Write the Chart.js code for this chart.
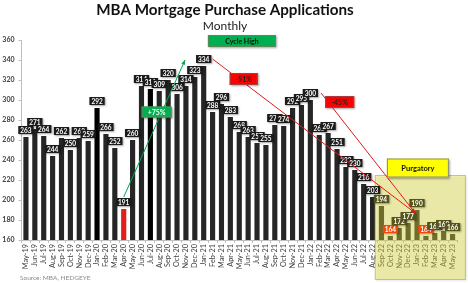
<!DOCTYPE html>
<html>
<head>
<meta charset="utf-8">
<script src="https://cdn.jsdelivr.net/npm/chart.js@4"></script>
<style>
  html, body { margin: 0; padding: 0; background: #fff; }
  canvas { display: block; }
</style>
</head>
<body>
<canvas id="chart" width="468" height="283"></canvas>
<script>
// data
const months = ['May-19','Jun-19','Jul-19','Aug-19','Sep-19','Oct-19','Nov-19','Dec-19',
  'Jan-20','Feb-20','Mar-20','Apr-20','May-20','Jun-20','Jul-20','Aug-20','Sep-20','Oct-20','Nov-20','Dec-20',
  'Jan-21','Feb-21','Mar-21','Apr-21','May-21','Jun-21','Jul-21','Aug-21','Sep-21','Oct-21','Nov-21','Dec-21',
  'Jan-22','Feb-22','Mar-22','Apr-22','May-22','Jun-22','Jul-22','Aug-22','Sep-22','Oct-22','Nov-22','Dec-22',
  'Jan-23','Feb-23','Mar-23','Apr-23','May-23'];
const purchaseIndex = [263, 271, 264, 244, 262, 250, 262, 259,
  292, 266, 252, 191, 260, 314, 311, 309, 320, 306, 314, 323,
  334, 288, 296, 283, 268, 263, 257, 255, 275, 274, 292, 295,
  300, 265, 267, 251, 233, 230, 216, 203, 194, 164, 172, 177,
  190, 164, 167, 169, 166];
const yMin = 160, yMax = 360, yStep = 20;
const blackMonths = ['Jan-20', 'Jul-20'];
const troughMonth = 'Apr-20';
const purgatoryFrom = 'Sep-22';
const purgatoryLows = ['Oct-22', 'Feb-23'];

const titleText = 'MBA Mortgage Purchase Applications';
const subtitleText = 'Monthly';
const sourceText = 'Source: MBA, HEDGEYE';

const idx = m => months.indexOf(m);
const purgStart = idx(purgatoryFrom);

const barColors = months.map(m => {
  if (m === troughMonth) return '#e0201c';
  if (blackMonths.includes(m)) return '#000000';
  return '#262626';
});

// helpers for drawing
function arrow(ctx, x1, y1, x2, y2, color) {
  ctx.save();
  ctx.strokeStyle = color;
  ctx.fillStyle = color;
  ctx.lineWidth = 1;
  ctx.beginPath();
  ctx.moveTo(x1, y1);
  ctx.lineTo(x2, y2);
  ctx.stroke();
  const a = Math.atan2(y2 - y1, x2 - x1);
  const s = 5;
  ctx.beginPath();
  ctx.moveTo(x2, y2);
  ctx.lineTo(x2 - s * Math.cos(a - 0.4), y2 - s * Math.sin(a - 0.4));
  ctx.lineTo(x2 - s * Math.cos(a + 0.4), y2 - s * Math.sin(a + 0.4));
  ctx.closePath();
  ctx.fill();
  ctx.restore();
}

function labelBox(ctx, cx, cy, w, h, text, bg, fg, font, border) {
  ctx.save();
  ctx.shadowColor = 'rgba(0,0,0,0.35)';
  ctx.shadowBlur = 2;
  ctx.shadowOffsetX = 1;
  ctx.shadowOffsetY = 1;
  ctx.fillStyle = bg;
  ctx.fillRect(cx - w / 2, cy - h / 2, w, h);
  ctx.restore();
  if (border) {
    ctx.strokeStyle = border;
    ctx.lineWidth = 1;
    ctx.strokeRect(cx - w / 2 + 0.5, cy - h / 2 + 0.5, w - 1, h - 1);
  }
  ctx.fillStyle = fg;
  ctx.font = font;
  ctx.textAlign = 'center';
  ctx.textBaseline = 'middle';
  ctx.fillText(text, cx, cy + 0.5);
}

const decorPlugin = {
  id: 'decor',
  beforeDraw(chart) {
    const ctx = chart.ctx;
    ctx.save();
    ctx.fillStyle = '#fff';
    ctx.fillRect(0, 0, chart.width, chart.height);
    ctx.textAlign = 'center';
    ctx.textBaseline = 'alphabetic';
    ctx.fillStyle = '#111';
    ctx.font = 'bold 15.2px Lato';
    ctx.fillText(titleText, 225, 15);
    ctx.font = '12px Lato';
    ctx.fillStyle = '#222';
    ctx.fillText(subtitleText, 225, 30);
    ctx.restore();
  },
  afterDatasetsDraw(chart) {
    const ctx = chart.ctx;
    const { x, y } = chart.scales;
    const bars = chart.getDatasetMeta(0).data;
    ctx.save();

    // purgatory zone
    const px1 = x.getPixelForValue(purgStart - 0.75);
    const px2 = x.getPixelForValue(months.length - 1 + 1.5);
    const py1 = y.getPixelForValue(225);
    const py2 = y.getPixelForValue(120);
    ctx.save();
    ctx.shadowColor = 'rgba(0,0,0,0.25)';
    ctx.shadowBlur = 2;
    ctx.shadowOffsetX = 1;
    ctx.shadowOffsetY = 1;
    ctx.fillStyle = 'rgba(240,235,60,0.38)';
    ctx.fillRect(px1, py1, px2 - px1, py2 - py1);
    ctx.restore();
    ctx.strokeStyle = 'rgba(160,160,120,0.6)';
    ctx.lineWidth = 1;
    ctx.strokeRect(px1 + 0.5, py1 + 0.5, px2 - px1 - 1, py2 - py1 - 1);

    // value labels
    const lf = 'bold 6.5px Lato';
    ctx.font = lf;
    bars.forEach((bar, i) => {
      const t = String(purchaseIndex[i]);
      const w = ctx.measureText(t).width + 4;
      const h = 8;
      let bg = '#1c1c1c';
      if (i >= purgStart) bg = purgatoryLows.includes(months[i]) ? '#f04a0a' : '#55551c';
      labelBox(ctx, bar.x, bar.y - 3 - h / 2, w, h, t, bg, '#fff', lf);
      ctx.font = lf;
    });

    // arrows
    arrow(ctx, x.getPixelForValue(idx('Apr-20')), y.getPixelForValue(203),
      x.getPixelForValue(17.9), y.getPixelForValue(340), '#00a651');
    arrow(ctx, x.getPixelForValue(21.0), y.getPixelForValue(341),
      x.getPixelForValue(43.8), y.getPixelForValue(187), '#e3191b');
    arrow(ctx, x.getPixelForValue(33.2), y.getPixelForValue(307),
      x.getPixelForValue(43.8), y.getPixelForValue(187), '#e3191b');

    // callout boxes
    const bf = 'bold 7px Lato';
    labelBox(ctx, x.getPixelForValue(24.3), y.getPixelForValue(359), 68, 12, 'Cycle High', '#00b050', '#111', bf, '#5a8a5a');
    labelBox(ctx, x.getPixelForValue(14.7), y.getPixelForValue(288), 30, 11, '+75%', '#00b050', '#fff', bf, '#5a8a5a');
    labelBox(ctx, x.getPixelForValue(24.5), y.getPixelForValue(321), 28, 12, '-51%', '#ff0000', '#222', bf, '#a04040');
    labelBox(ctx, x.getPixelForValue(35.3), y.getPixelForValue(298), 29, 12, '-45%', '#ff0000', '#222', bf, '#a04040');
    labelBox(ctx, x.getPixelForValue(44.1), y.getPixelForValue(232), 62, 19, 'Purgatory', '#ffff00', '#111', 'bold 7.5px Lato', '#888');

    // source
    ctx.font = '6.5px Lato';
    ctx.fillStyle = '#8a8a8a';
    ctx.textAlign = 'left';
    ctx.textBaseline = 'middle';
    ctx.fillText(sourceText, 20, 278);
    ctx.restore();
  }
};

new Chart(document.getElementById('chart'), {
  type: 'bar',
  data: {
    labels: months,
    datasets: [{
      data: purchaseIndex,
      backgroundColor: barColors,
      barPercentage: 0.58,
      categoryPercentage: 1.0
    }]
  },
  options: {
    responsive: false,
    animation: false,
    layout: { padding: { top: 40, right: 11, bottom: 0, left: 0 } },
    plugins: {
      legend: { display: false },
      title: { display: false },
      tooltip: { enabled: false }
    },
    scales: {
      x: {
        offset: true,
        grid: { display: true, drawOnChartArea: false, tickLength: 3, color: '#bfbfbf', offset: true },
        border: { color: '#bfbfbf' },
        ticks: {
          autoSkip: false, maxRotation: 90, minRotation: 90, padding: 1,
          color: '#404040', font: { family: 'Lato', size: 7.3 }
        },
        afterFit(scale) { scale.height = 43; }
      },
      y: {
        min: yMin, max: yMax,
        grid: { display: true, drawOnChartArea: false, tickLength: 3, color: '#bfbfbf' },
        border: { color: '#bfbfbf' },
        ticks: {
          stepSize: yStep, padding: 4,
          color: '#404040', font: { family: 'Lato', size: 7, weight: 'bold' }
        },
        afterFit(scale) { scale.width = 21.5; }
      }
    }
  },
  plugins: [decorPlugin]
});
</script>
</body>
</html>
